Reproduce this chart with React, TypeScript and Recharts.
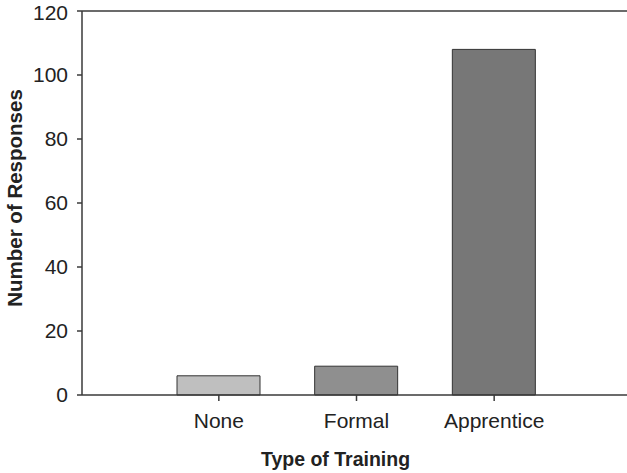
import { Bar, BarChart, Cell, Label, ReferenceLine, XAxis, YAxis } from "recharts";

const categories = ["None", "Formal", "Apprentice"];
const responses = [6, 9, 108];
const barColors = ["#bfbfbf", "#8f8f8f", "#777777"];
const yTicks = [0, 20, 40, 60, 80, 100, 120];

const data = categories.map((name, i) => ({ name, value: responses[i] }));

const axisColor = "#3a3a3a";
const font = "'Liberation Sans', Arial, Helvetica, sans-serif";

function XTitle({ viewBox }: any) {
  const { x, y, width, height } = viewBox;
  return (
    <text
      x={x + width / 2 - 19}
      y={y + height - 7}
      textAnchor="middle"
      fontFamily={font}
      fontSize={19.5}
      fontWeight="bold"
      fill="#222"
    >
      Type of Training
    </text>
  );
}

function YTitle({ viewBox }: any) {
  const { y, height } = viewBox;
  const cx = 14;
  const cy = y + height / 2 - 5;
  return (
    <text
      x={cx}
      y={cy}
      transform={`rotate(-90 ${cx} ${cy})`}
      textAnchor="middle"
      dominantBaseline="central"
      fontFamily={font}
      fontSize={20.5}
      fontWeight="bold"
      fill="#222"
    >
      Number of Responses
    </text>
  );
}

export default function App() {
  return (
    <div
      style={{
        position: "absolute",
        left: 0,
        top: 0,
        width: 627,
        height: 473,
        overflow: "hidden",
        background: "#fff",
      }}
    >
      <BarChart
        width={627}
        height={473}
        data={data}
        margin={{ top: 11, right: 0, bottom: 0, left: 0 }}
      >
        <XAxis
          dataKey="name"
          height={78}
          padding={{ left: 68, right: 64 }}
          stroke={axisColor}
          strokeWidth={1.5}
          tickSize={6}
          tickMargin={12}
          tick={{ fill: "#222", fontSize: 21, fontFamily: font }}
        >
          <Label content={XTitle} />
        </XAxis>
        <YAxis
          width={82}
          domain={[0, 120]}
          ticks={yTicks}
          stroke={axisColor}
          strokeWidth={1.5}
          tickSize={5}
          tickMargin={9}
          tick={{ fill: "#222", fontSize: 21, fontFamily: font }}
        >
          <Label content={YTitle} />
        </YAxis>
        <ReferenceLine y={120} stroke={axisColor} strokeWidth={1.5} />
        <Bar dataKey="value" barSize={83} stroke="#333" strokeWidth={1} isAnimationActive={false}>
          {data.map((d, i) => (
            <Cell key={d.name} fill={barColors[i]} />
          ))}
        </Bar>
      </BarChart>
    </div>
  );
}
